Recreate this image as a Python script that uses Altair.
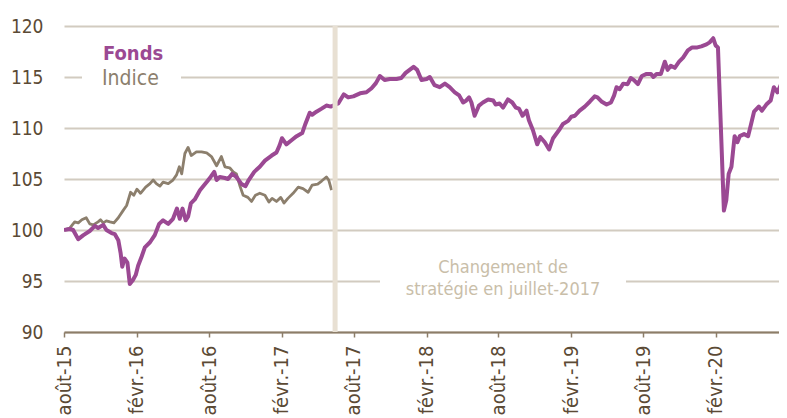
import altair as alt
import pandas as pd

# ---------------- data ----------------
series_names = ["Fonds", "Indice"]

fonds_dates = [
    "2015-08-01", "2015-08-16", "2015-08-24", "2015-09-06", "2015-09-19", "2015-10-05", "2015-10-18", "2015-10-26", "2015-11-08", "2015-11-16",
    "2015-11-29", "2015-12-07", "2015-12-16", "2015-12-22", "2015-12-26", "2016-01-01", "2016-01-08", "2016-01-14", "2016-01-22", "2016-01-29",
    "2016-02-04", "2016-02-13", "2016-02-21", "2016-03-05", "2016-03-17", "2016-03-28", "2016-04-07", "2016-04-20", "2016-05-02", "2016-05-12",
    "2016-05-19", "2016-05-26", "2016-06-03", "2016-06-09", "2016-06-16", "2016-06-26", "2016-07-09", "2016-07-26", "2016-08-05", "2016-08-14",
    "2016-08-20", "2016-08-28", "2016-09-10", "2016-09-18", "2016-09-28", "2016-10-09", "2016-10-22", "2016-11-01", "2016-11-09", "2016-11-23",
    "2016-12-07", "2016-12-20", "2017-01-06", "2017-01-18", "2017-01-26", "2017-02-01", "2017-02-12", "2017-02-25", "2017-03-10", "2017-03-24",
    "2017-04-01", "2017-04-12", "2017-04-18", "2017-04-29", "2017-05-12", "2017-05-24", "2017-06-04", "2017-06-23", "2017-07-07", "2017-07-18",
    "2017-07-31", "2017-08-17", "2017-09-02", "2017-09-15", "2017-09-26", "2017-10-06", "2017-10-18", "2017-10-31", "2017-11-17", "2017-11-29",
    "2017-12-10", "2017-12-20", "2017-12-30", "2018-01-08", "2018-01-19", "2018-02-01", "2018-02-09", "2018-02-21", "2018-03-06", "2018-03-19",
    "2018-03-31", "2018-04-13", "2018-04-24", "2018-05-04", "2018-05-12", "2018-05-19", "2018-05-25", "2018-06-02", "2018-06-13", "2018-06-23",
    "2018-07-06", "2018-07-19", "2018-07-25", "2018-08-04", "2018-08-13", "2018-08-25", "2018-09-05", "2018-09-14", "2018-09-22", "2018-10-01",
    "2018-10-11", "2018-10-17", "2018-10-27", "2018-11-07", "2018-11-15", "2018-11-26", "2018-12-07", "2018-12-17", "2019-01-03", "2019-01-11",
    "2019-01-24", "2019-02-01", "2019-02-10", "2019-02-22", "2019-03-07", "2019-03-20", "2019-04-01", "2019-04-08", "2019-04-18", "2019-05-01",
    "2019-05-12", "2019-05-20", "2019-05-26", "2019-06-03", "2019-06-12", "2019-06-23", "2019-07-01", "2019-07-09", "2019-07-19", "2019-07-29",
    "2019-08-10", "2019-08-21", "2019-08-27", "2019-09-04", "2019-09-15", "2019-09-25", "2019-10-02", "2019-10-10", "2019-10-20", "2019-10-31",
    "2019-11-10", "2019-11-22", "2019-12-03", "2019-12-16", "2019-12-26", "2020-01-08", "2020-01-16", "2020-01-25", "2020-01-31", "2020-02-06",
    "2020-02-21", "2020-02-27", "2020-03-04", "2020-03-11", "2020-03-19", "2020-03-26", "2020-04-01", "2020-04-12", "2020-04-22", "2020-04-29",
    "2020-05-07", "2020-05-19", "2020-05-27", "2020-06-07", "2020-06-18", "2020-06-26", "2020-07-05", "2020-07-15", "2020-07-23", "2020-07-28",
]
fonds_values = [
    100.0, 100.1, 100.0, 99.1, 99.5, 99.9, 100.4, 100.2, 100.5, 100.0,
    99.7, 99.6, 99.0, 97.7, 96.4, 97.2, 96.8, 94.7, 95.1, 95.6,
    96.5, 97.4, 98.3, 98.8, 99.5, 100.6, 100.95, 100.6, 101.1, 102.1,
    101.1, 102.1, 100.95, 101.3, 102.6, 103.0, 103.9, 104.7, 105.2, 105.7,
    104.9, 105.2, 105.1, 105.0, 105.5, 105.2, 104.5, 104.3, 104.9, 105.7,
    106.2, 106.8, 107.3, 107.6, 108.3, 109.0, 108.4, 108.8, 109.2, 109.5,
    110.4, 111.5, 111.3, 111.6, 111.9, 112.2, 112.1, 112.4, 113.3, 113.0,
    113.1, 113.4, 113.5, 113.9, 114.4, 115.1, 114.7, 114.8, 114.8, 114.9,
    115.4, 115.7, 116.0, 115.7, 114.7, 114.8, 115.0, 114.2, 114.0, 114.35,
    114.0, 113.5, 113.2, 112.5, 112.7, 113.0, 112.5, 111.2, 112.2, 112.5,
    112.8, 112.7, 112.3, 112.4, 112.0, 112.8, 112.5, 112.0, 111.9, 111.2,
    111.7, 110.75, 109.8, 108.4, 109.1, 108.6, 107.9, 109.0, 109.9, 110.4,
    110.7, 111.1, 111.2, 111.7, 112.1, 112.6, 113.1, 113.0, 112.6, 112.3,
    112.5, 113.2, 114.0, 113.8, 114.35, 114.3, 114.9, 114.7, 114.3, 115.1,
    115.3, 115.3, 115.0, 115.3, 115.3, 116.5, 115.7, 116.1, 115.9, 116.5,
    116.9, 117.6, 117.9, 117.9, 118.0, 118.2, 118.4, 118.8, 118.1, 117.9,
    101.9, 102.9, 105.5, 106.2, 109.2, 108.6, 109.2, 109.4, 109.2, 110.3,
    111.6, 112.1, 111.7, 112.3, 112.7, 114.0, 113.5, 114.35, 114.8, 115.0,
]

indice_dates = [
    "2015-08-01", "2015-08-16", "2015-08-28", "2015-09-06", "2015-09-15", "2015-09-26", "2015-10-05", "2015-10-14", "2015-10-26", "2015-11-01",
    "2015-11-08", "2015-11-16", "2015-11-25", "2015-12-05", "2015-12-16", "2015-12-28", "2016-01-06", "2016-01-16", "2016-01-24", "2016-02-01",
    "2016-02-10", "2016-02-23", "2016-03-05", "2016-03-13", "2016-03-21", "2016-03-30", "2016-04-07", "2016-04-20", "2016-05-02", "2016-05-11",
    "2016-05-18", "2016-05-24", "2016-06-01", "2016-06-09", "2016-06-17", "2016-06-30", "2016-07-13", "2016-07-26", "2016-08-07", "2016-08-20",
    "2016-09-01", "2016-09-10", "2016-09-22", "2016-10-01", "2016-10-09", "2016-10-18", "2016-10-26", "2016-11-07", "2016-11-16", "2016-11-26",
    "2016-12-07", "2016-12-20", "2016-12-30", "2017-01-07", "2017-01-18", "2017-01-29", "2017-02-06", "2017-02-16", "2017-03-01", "2017-03-14",
    "2017-03-26", "2017-04-08", "2017-04-18", "2017-05-02", "2017-05-12", "2017-05-24", "2017-05-30", "2017-06-06",
]
indice_values = [
    100.0, 100.2, 100.8, 100.7, 101.0, 101.2, 100.6, 100.5, 100.8, 101.0,
    100.7, 100.9, 100.8, 100.7, 101.2, 101.9, 102.4, 103.7, 103.4, 104.0,
    103.6, 104.2, 104.55, 104.9, 104.55, 104.3, 104.7, 104.55, 104.9, 105.4,
    106.2, 105.5, 107.5, 108.1, 107.3, 107.65, 107.65, 107.55, 107.2, 106.3,
    107.2, 106.2, 106.1, 105.7, 105.5, 104.3, 103.4, 103.2, 102.8, 103.4,
    103.6, 103.4, 102.75, 103.1, 102.8, 103.2, 102.65, 103.1, 103.6, 104.2,
    104.05, 103.7, 104.4, 104.5, 104.8, 105.2, 104.9, 103.9,
]

y_ticks = [90, 95, 100, 105, 110, 115, 120]
x_tick_months = [(2015, 8), (2016, 2), (2016, 8), (2017, 2), (2017, 8),
                 (2018, 2), (2018, 8), (2019, 2), (2019, 8), (2020, 2)]
month_labels_fr = ["janv.", "févr.", "mars", "avr.", "mai", "juin",
                   "juil.", "août", "sept.", "oct.", "nov.", "déc."]
change_date = "2017-06-15"
annotation_lines = ["Changement de", "stratégie en juillet-2017"]

# ---------------- style ----------------
FONT = "DejaVu Sans Condensed, DejaVu Sans"
PURPLE = "#9b4993"
BROWN = "#8c7f6d"
GRID = "#d2cbc0"
AXIS = "#8c7d68"
LABEL = "#5b4a35"
ANNOT = "#c9bea9"
BAR = "#e8e0d3"
W, H = 715, 306

fonds_df = pd.DataFrame({"date": [d + "T00:00:00" for d in fonds_dates],
                         "value": fonds_values, "serie": series_names[0]})
indice_df = pd.DataFrame({"date": [d + "T00:00:00" for d in indice_dates],
                          "value": indice_values, "serie": series_names[1]})

label_expr = ("[" + ",".join("'" + m + "'" for m in month_labels_fr) + "][month(datum.value)]"
              " + '-' + timeFormat(datum.value, '%y')")

x_scale = alt.Scale(domain=[alt.DateTime(year=2015, month=8, date=1),
                            alt.DateTime(year=2020, month=7, date=9)], nice=False)
x_axis = alt.Axis(values=[alt.DateTime(year=y, month=m, date=1) for y, m in x_tick_months],
                  labelExpr=label_expr, labelAngle=270, grid=False,
                  domainColor=AXIS, domainWidth=2, tickColor=AXIS, tickSize=5, tickWidth=1.5,
                  labelFont=FONT, labelFontSize=20, labelColor=LABEL, labelPadding=8,
                  labelOverlap=False, labelFlush=False, title=None)
y_axis = alt.Axis(values=y_ticks, grid=True, gridColor=GRID, gridWidth=2,
                  domain=False, ticks=False, labelPadding=21,
                  labelFont=FONT, labelFontSize=19, labelColor=LABEL, title=None)
x_enc = alt.X("date:T", scale=x_scale, axis=x_axis)
y_enc = alt.Y("value:Q", scale=alt.Scale(domain=[90, 120], nice=False, zero=False), axis=y_axis)

indice_line = alt.Chart(indice_df).mark_line(
    color=BROWN, strokeWidth=2.8, strokeJoin="round", clip=True).encode(x=x_enc, y=y_enc)
fonds_line = alt.Chart(fonds_df).mark_line(
    color=PURPLE, strokeWidth=4, strokeJoin="round", clip=True).encode(x=x_enc, y=y_enc)

bar = alt.Chart(pd.DataFrame({"date": [change_date + "T00:00:00"]})).mark_rule(
    color=BAR, strokeWidth=5).encode(x=x_enc, y=alt.value(0), y2=alt.value(H))

# white masks breaking the gridlines behind the legend and the annotation
mask_legend = alt.Chart(pd.DataFrame({"k": [0]})).mark_rect(color="white").encode(
    x=alt.value(18), x2=alt.value(117), y=alt.value(46), y2=alt.value(57))
mask_annot = alt.Chart(pd.DataFrame({"k": [0]})).mark_rect(color="white").encode(
    x=alt.value(316), x2=alt.value(562), y=alt.value(249), y2=alt.value(260))

leg_fonds = alt.Chart(pd.DataFrame({"t": [series_names[0]]})).mark_text(
    font=FONT, fontSize=20, fontWeight="bold", color=PURPLE, align="left", baseline="alphabetic"
).encode(x=alt.value(39), y=alt.value(33.5), text="t:N")
leg_indice = alt.Chart(pd.DataFrame({"t": [series_names[1]]})).mark_text(
    font=FONT, fontSize=21, color=BROWN, align="left", baseline="alphabetic"
).encode(x=alt.value(38), y=alt.value(58.5), text="t:N")

annot = alt.Chart(pd.DataFrame({"t": [annotation_lines]})).mark_text(
    font=FONT, fontSize=18, color=ANNOT, align="center", baseline="alphabetic", lineHeight=22.5
).encode(x=alt.value(439), y=alt.value(246.5), text="t")

chart = alt.layer(
    mask_legend, mask_annot, indice_line, fonds_line, bar, leg_fonds, leg_indice, annot
).properties(
    width=W, height=H,
    autosize=alt.AutoSizeParams(type="none"),
    padding={"left": 56, "top": 18, "right": 0, "bottom": 86},
    background="white",
).configure_view(stroke=None)

chart.save("out.html", embed_options={"renderer": "svg", "actions": False})
